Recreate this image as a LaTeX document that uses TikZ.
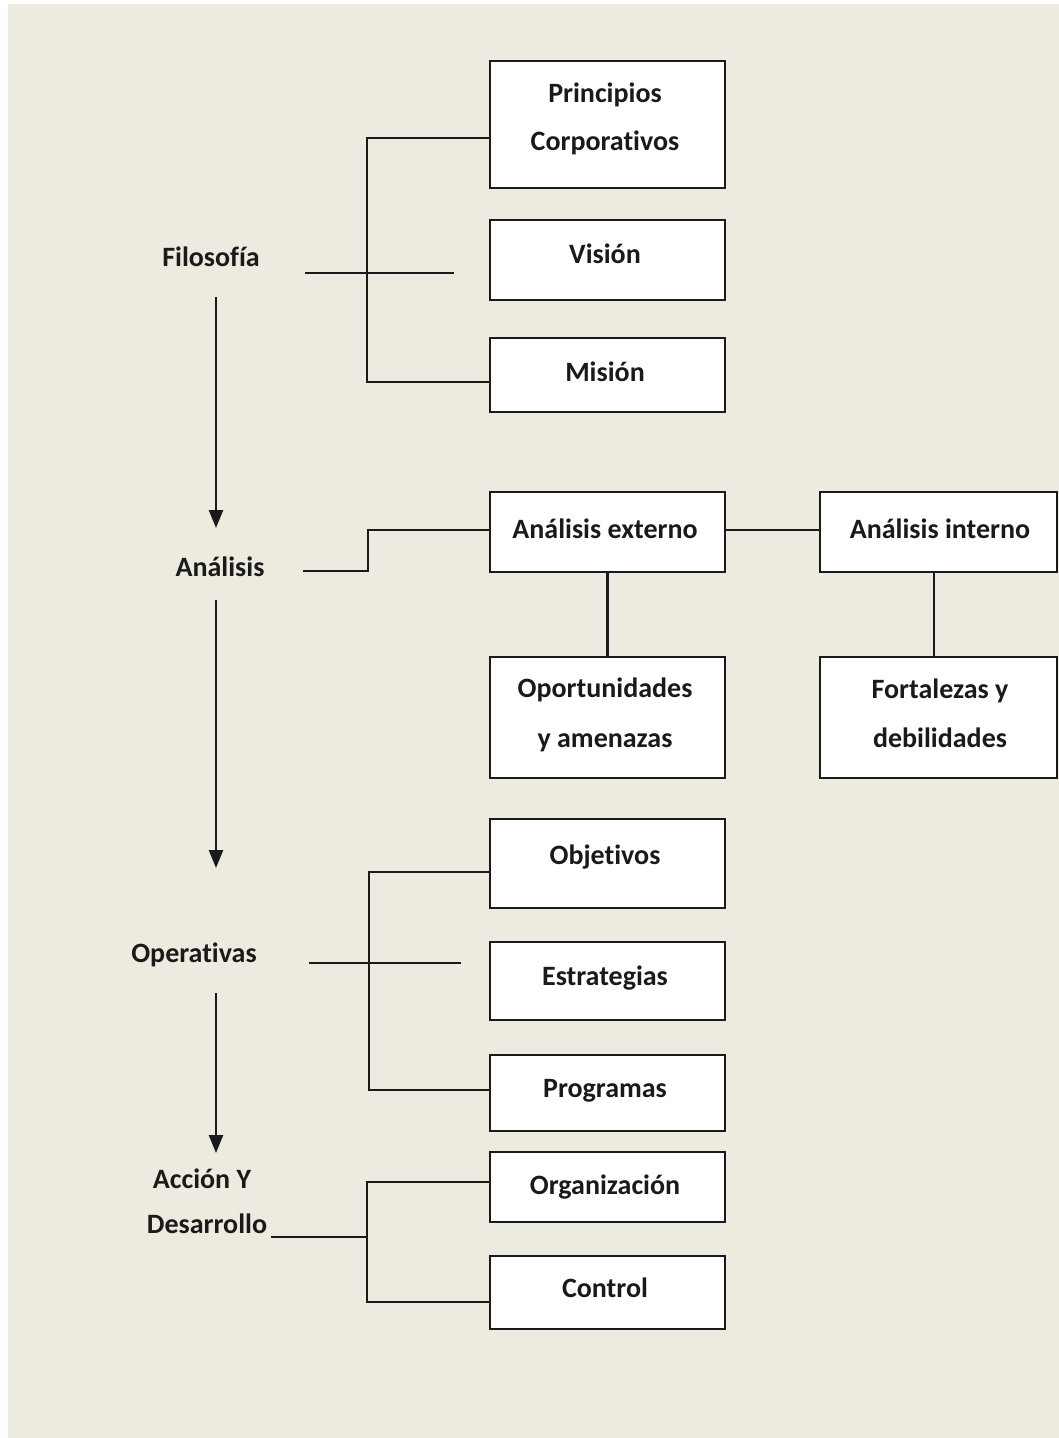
\documentclass[tikz,border=0pt]{standalone}
\usepackage{fontspec}
\setmainfont[Ligatures=NoCommon,RawFeature=-liga]{Carlito}
\usetikzlibrary{arrows.meta}
\definecolor{bg}{HTML}{EDEBE0}
\definecolor{ink}{HTML}{1A1A1A}
\begin{document}
\begin{tikzpicture}[x=1pt,y=-1pt,
  box/.style={draw=ink,line width=2.6pt,fill=white,inner sep=0pt,minimum width=235pt},
  wbox/.style={box,minimum width=237pt},
  lbl/.style={font=\fontsize{28}{34}\selectfont\bfseries,text=ink,anchor=base,inner sep=0pt},
  conn/.style={draw=ink,line width=2.6pt},
  flow/.style={conn,-{Triangle[width=14pt,length=18pt]}}]
\useasboundingbox (0,0) rectangle (1059,1438);
\fill[white] (0,0) rectangle (1059,1438);
\fill[bg] (8,4) rectangle (1059,1438);

% boxes
\node[box,minimum height=127pt] (bPC) at (607.5,124.5) {};
\node[box,minimum height=80pt]  (bVis) at (607.5,260) {};
\node[box,minimum height=74pt]  (bMis) at (607.5,375) {};
\node[box,minimum height=80pt]  (bExt) at (607.5,532) {};
\node[wbox,minimum height=80pt] (bInt) at (938.5,532) {};
\node[box,minimum height=121pt] (bOpo) at (607.5,717.5) {};
\node[wbox,minimum height=121pt] (bFod) at (938.5,717.5) {};
\node[box,minimum height=89pt]  (bObj) at (607.5,863.5) {};
\node[box,minimum height=78pt]  (bEst) at (607.5,981) {};
\node[box,minimum height=76pt]  (bPro) at (607.5,1093) {};
\node[box,minimum height=70pt]  (bOrg) at (607.5,1187) {};
\node[box,minimum height=73pt]  (bCtl) at (607.5,1292.5) {};

% box texts
\node[lbl] (tPC1) at (605,102) {Principios};
\node[lbl] (tPC2) at (605,150) {Corporat\kern0pt ivos};
\node[lbl] (tVis) at (605,263) {Visión};
\node[lbl] (tMis) at (605,381) {Misión};
\node[lbl] (tExt) at (605,538) {Análisis externo};
\node[lbl] (tInt) at (940,538) {Análisis interno};
\node[lbl] (tOpo1) at (605,697) {Oportunidades};
\node[lbl] (tOpo2) at (605,747) {y amenazas};
\node[lbl] (tFod1) at (940,698) {Fortalezas y};
\node[lbl] (tFod2) at (940,747) {debilidades};
\node[lbl] (tObj) at (605,864) {Objet\kern0pt ivos};
\node[lbl] (tEst) at (605,985) {Estrategias};
\node[lbl] (tPro) at (605,1097) {Programas};
\node[lbl] (tOrg) at (605,1194) {Organización};
\node[lbl] (tCtl) at (605,1297) {Control};

% stage labels
\node[lbl] (filo) at (211,266) {Filosofía};
\node[lbl] (ana) at (220,576) {Análisis};
\node[lbl] (ope) at (194,962) {Operat\kern0pt ivas};
\node[lbl] (acc1) at (202,1188) {Acción Y};
\node[lbl] (acc2) at (207,1233) {Desarrollo};

% coordinates
\coordinate (fT) at (367,138);
\coordinate (fB) at (367,382);
\coordinate (fM1) at (305,273);
\coordinate (fM2) at (454,273);
\coordinate (aS) at (303,571);
\coordinate (aK) at (368,571);
\coordinate (aU) at (368,530);
\coordinate (oT) at (369,872);
\coordinate (oB) at (369,1090);
\coordinate (oM1) at (309,963);
\coordinate (oM2) at (461,963);
\coordinate (cT) at (367,1182);
\coordinate (cB) at (367,1302);
\coordinate (cM1) at (271,1237);
\coordinate (cM2) at (367,1237);
\coordinate (ar1s) at (216,297);
\coordinate (ar1e) at (216,528);
\coordinate (ar2s) at (216,600);
\coordinate (ar2e) at (216,868);
\coordinate (ar3s) at (216,993);
\coordinate (ar3e) at (216,1153);

% connectors
\draw[conn] (bPC.west |- fT) -- (fT) -- (fB) -- (bMis.west |- fB);
\draw[conn] (fM1) -- (fM2);
\draw[conn] (aS) -- (aK) -- (aU) -- (bExt.west |- aU);
\draw[conn] (bExt.east |- aU) -- (bInt.west |- aU);
\draw[conn] (bExt.south) -- (bOpo.north);
\draw[conn] ([xshift=-4.5pt]bInt.south) -- ([xshift=-4.5pt]bFod.north);
\draw[conn] (bObj.west |- oT) -- (oT) -- (oB) -- (bPro.west |- oB);
\draw[conn] (oM1) -- (oM2);
\draw[conn] (bOrg.west |- cT) -- (cT) -- (cB) -- (bCtl.west |- cB);
\draw[conn] (cM1) -- (cM2);

% flow arrows
\draw[flow] (ar1s) -- (ar1e);
\draw[flow] (ar2s) -- (ar2e);
\draw[flow] (ar3s) -- (ar3e);
\end{tikzpicture}
\end{document}
